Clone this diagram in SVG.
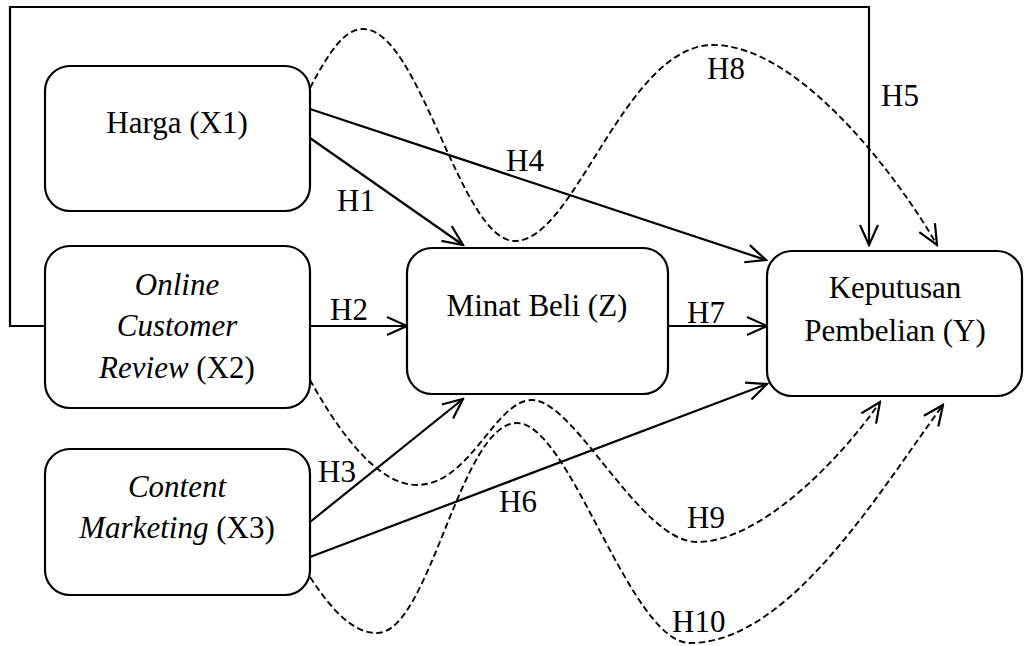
<svg xmlns="http://www.w3.org/2000/svg" width="1035" height="646" viewBox="0 0 1035 646">
<defs>
<marker id="arr" viewBox="0 0 24 22" markerWidth="24" markerHeight="22" refX="22" refY="11" orient="auto" markerUnits="userSpaceOnUse">
<path d="M2,2 L22,11 L2,20" fill="none" stroke="#000" stroke-width="2.2"/>
</marker>
</defs>
<style>
.box{fill:#fff;stroke:#000;stroke-width:2.2}
.t{font-family:"Liberation Serif","Times New Roman",serif;font-size:31px;fill:#000;text-anchor:middle}
.i{font-style:italic}
.l{font-family:"Liberation Serif","Times New Roman",serif;font-size:31px;fill:#000}
.s{fill:none;stroke:#000;stroke-width:2.2}
.d{fill:none;stroke:#000;stroke-width:1.9;stroke-dasharray:6.5,3.5}
</style>
<rect width="1035" height="646" fill="#fff"/>
<g id="connectors">
<polyline class="s" points="45,326 10,326 10,7 869,7 869,245" marker-end="url(#arr)"/>
<line class="s" x1="310" y1="138" x2="463" y2="245" marker-end="url(#arr)"/>
<line class="s" x1="310" y1="109" x2="766" y2="260" marker-end="url(#arr)"/>
<line class="s" x1="310" y1="326" x2="407" y2="326" marker-end="url(#arr)"/>
<line class="s" x1="668" y1="326" x2="767" y2="326" marker-end="url(#arr)"/>
<line class="s" x1="310" y1="522" x2="463" y2="399" marker-end="url(#arr)"/>
<line class="s" x1="310" y1="557" x2="767" y2="384" marker-end="url(#arr)"/>
<path class="d" d="M310,88 C330,50 345,29 363,29 C420,29 460,241 515,241 C575,241 625,45 713,45 C800,45 900,180 937,245" marker-end="url(#arr)"/>
<path class="d" d="M310,380 C335,425 375,485 417,485 C470,485 495,400 532,400 C575,400 640,542 697,542 C760,542 840,460 880,402" marker-end="url(#arr)"/>
<path class="d" d="M310,577 C335,615 355,633 377,633 C430,633 460,423 517,423 C570,423 630,643 690,643 C790,643 880,490 943,405" marker-end="url(#arr)"/>
<text class="l" x="337" y="211">H1</text>
<text class="l" x="330" y="320">H2</text>
<text class="l" x="318" y="482">H3</text>
<text class="l" x="506" y="171">H4</text>
<text class="l" x="881" y="106">H5</text>
<text class="l" x="499" y="512">H6</text>
<text class="l" x="687" y="323">H7</text>
<text class="l" x="707" y="79">H8</text>
<text class="l" x="687" y="528">H9</text>
<text class="l" x="672" y="632">H10</text>
</g>
<g id="harga">
<rect class="box" x="45" y="66" width="265" height="145" rx="25"/>
<text class="t" x="177" y="133">Harga (X1)</text>
</g>
<g id="ocr">
<rect class="box" x="45" y="246" width="265" height="162" rx="25"/>
<text class="t i" x="177" y="295">Online</text>
<text class="t i" x="177" y="336">Customer</text>
<text class="t" x="177" y="378"><tspan class="i">Review</tspan> (X2)</text>
</g>
<g id="content">
<rect class="box" x="45" y="449" width="265" height="146" rx="25"/>
<text class="t i" x="177" y="497">Content</text>
<text class="t" x="177" y="538"><tspan class="i">Marketing</tspan> (X3)</text>
</g>
<g id="minat">
<rect class="box" x="407" y="248" width="261" height="146" rx="25"/>
<text class="t" x="537" y="316">Minat Beli (Z)</text>
</g>
<g id="keputusan">
<rect class="box" x="767" y="251" width="255" height="145" rx="25"/>
<text class="t" x="895" y="298">Keputusan</text>
<text class="t" x="895" y="341">Pembelian (Y)</text>
</g>
</svg>
